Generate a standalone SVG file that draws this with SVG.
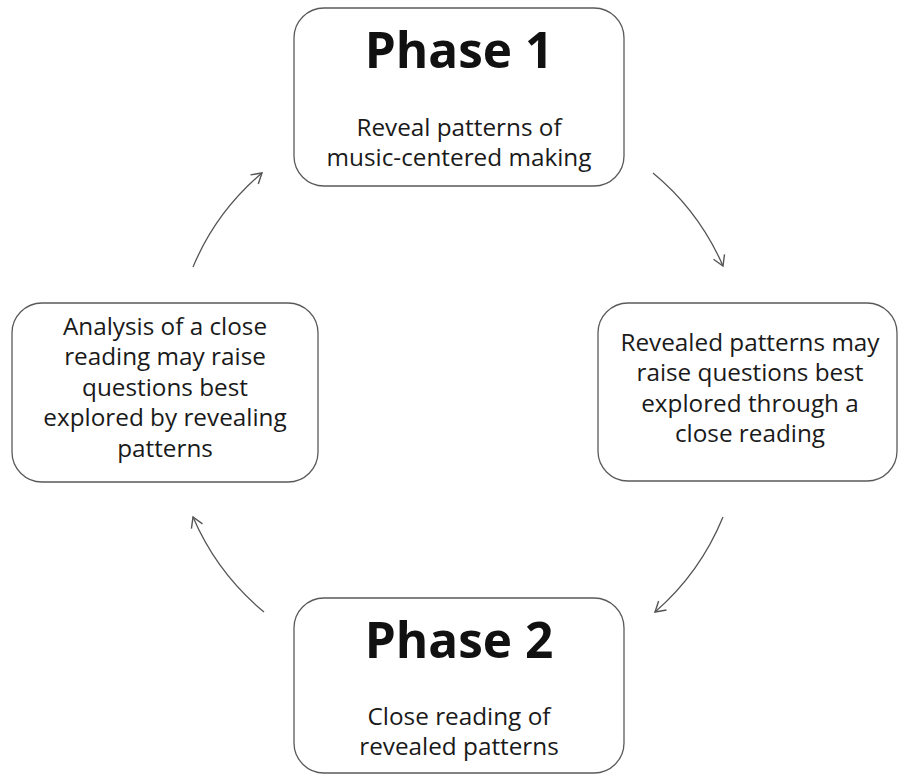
<svg xmlns="http://www.w3.org/2000/svg" width="899" height="775" viewBox="0 0 899 775">
<style>
.box{fill:#ffffff;stroke:#5a5a5a;stroke-width:1.3}
.title{font-family:"Open Sans","Noto Sans","Liberation Sans",sans-serif;font-weight:bold;font-size:49.5px;fill:#111;text-anchor:middle}
.body{font-family:"Open Sans","Noto Sans","Liberation Sans",sans-serif;font-size:24.3px;fill:#1a1a1a;text-anchor:middle}
.conn{fill:none;stroke:#555;stroke-width:1.3;marker-end:url(#arr)}
</style>
<defs>
<marker id="arr" markerUnits="userSpaceOnUse" markerWidth="16" markerHeight="16" refX="11" refY="8" orient="auto">
<path d="M1,2 L11,8 L1,14" fill="none" stroke="#555" stroke-width="1.4"/>
</marker>
</defs>
<rect width="899" height="775" fill="#ffffff"/>
<g id="phase1">
<rect class="box" x="294" y="8" width="330" height="178" rx="30"/>
<text class="title" x="459" y="68">Phase 1</text>
<text class="body" x="459" y="136">Reveal patterns of</text>
<text class="body" x="459" y="166">music-centered making</text>
</g>
<g id="right">
<rect class="box" x="598" y="303" width="299" height="178" rx="30"/>
<text class="body" x="750" y="351">Revealed patterns may</text>
<text class="body" x="750" y="381">raise questions best</text>
<text class="body" x="750" y="412">explored through a</text>
<text class="body" x="750" y="442">close reading</text>
</g>
<g id="phase2">
<rect class="box" x="294" y="598" width="330" height="175" rx="30"/>
<text class="title" x="459" y="658">Phase 2</text>
<text class="body" x="459" y="725">Close reading of</text>
<text class="body" x="459" y="755">revealed patterns</text>
</g>
<g id="left">
<rect class="box" x="12" y="303" width="306" height="179" rx="30"/>
<text class="body" x="165" y="335">Analysis of a close</text>
<text class="body" x="165" y="365">reading may raise</text>
<text class="body" x="165" y="396">questions best</text>
<text class="body" x="165" y="426">explored by revealing</text>
<text class="body" x="165" y="457">patterns</text>
</g>
<g id="connectors">
<path class="conn" d="M193,267 Q216,212 262,173"/>
<path class="conn" d="M653,173 Q699,211 723,266"/>
<path class="conn" d="M723,517 Q700,573 655,612"/>
<path class="conn" d="M264,612 Q217,573 193,517"/>
</g>
</svg>
